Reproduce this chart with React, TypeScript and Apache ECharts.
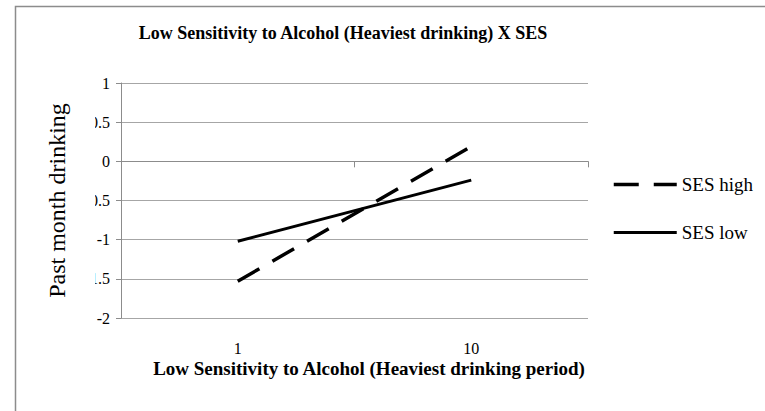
import React, { useEffect, useRef } from "react";
import * as echarts from "echarts";

const categories = ["1", "10"];
const sesHigh = [-1.53, 0.19];
const sesLow = [-1.02, -0.24];
const seriesNames = ["SES high", "SES low"];
const titleText = "Low Sensitivity to Alcohol (Heaviest drinking) X SES";
const xAxisTitle = "Low Sensitivity to Alcohol (Heaviest drinking period)";
const yAxisTitle = "Past month drinking";
const yMin = -2;
const yMax = 1;
const yStep = 0.5;

const FONT = "Liberation Serif";

export default function App() {
  const ref = useRef<HTMLDivElement>(null);
  useEffect(() => {
    if (!ref.current) return;
    const chart = echarts.init(ref.current, null, { renderer: "svg" });
    chart.setOption({
      animation: false,
      backgroundColor: "#ffffff",
      textStyle: { fontFamily: FONT, color: "#000" },
      title: {
        text: titleText,
        left: 343,
        textAlign: "center",
        top: 24,
        padding: 0,
        textStyle: { fontFamily: FONT, fontSize: 18, fontWeight: "bold", color: "#000" },
      },
      graphic: [
        {
          type: "rect",
          shape: { x: 15.5, y: 6.5, width: 900, height: 600 },
          style: { fill: "none", stroke: "#8c8c8c", lineWidth: 1.5 },
          silent: true,
          z: -1,
        },
        {
          // white box of the y-axis title that hides part of the tick labels
          type: "rect",
          shape: { x: 74, y: 100, width: 21, height: 200 },
          style: { fill: "#ffffff", stroke: "none" },
          silent: true,
          z: 100,
        },
      ],
      legend: {
        orient: "vertical",
        left: 612,
        top: 175,
        padding: 0,
        itemWidth: 63,
        itemHeight: 14,
        itemGap: 29,
        textStyle: { fontFamily: FONT, fontSize: 19, color: "#000" },
        data: [
          {
            name: seriesNames[0],
            itemStyle: { color: "rgba(0,0,0,0)", borderWidth: 0 },
            lineStyle: { color: "#000", width: 3.5, type: [25, 15] },
          },
          {
            name: seriesNames[1],
            itemStyle: { color: "rgba(0,0,0,0)", borderWidth: 0 },
            lineStyle: { color: "#000", width: 3, type: "solid" },
          },
        ],
      },
      grid: { left: 121, right: 177, top: 83, bottom: 93 },
      xAxis: {
        type: "category",
        data: categories,
        boundaryGap: true,
        name: xAxisTitle,
        nameLocation: "middle",
        nameGap: 41,
        nameMoveOverlap: false,
        nameTextStyle: {
          fontFamily: FONT,
          fontSize: 19,
          fontWeight: "bold",
          color: "#000",
          padding: [0, 0, 0, 29],
        },
        axisLine: { lineStyle: { color: "#8c8c8c", width: 1 } },
        axisTick: { show: true, length: 6, lineStyle: { color: "#8c8c8c" } },
        axisLabel: { fontFamily: FONT, fontSize: 16, color: "#000", margin: 22 },
        splitLine: { show: false },
      },
      yAxis: {
        type: "value",
        min: yMin,
        max: yMax,
        interval: yStep,
        name: yAxisTitle,
        nameLocation: "middle",
        nameGap: 52,
        nameMoveOverlap: false,
        nameTextStyle: {
          fontFamily: FONT,
          fontSize: 24,
          color: "#000",
        },
        axisLine: { show: true, lineStyle: { color: "#8c8c8c", width: 1 } },
        axisTick: { show: true, length: 5, lineStyle: { color: "#8c8c8c" } },
        axisLabel: { fontFamily: FONT, fontSize: 16, color: "#000", margin: 11 },
        splitLine: { show: true, lineStyle: { color: "#a6a6a6", width: 1 } },
      },
      series: [
        {
          name: seriesNames[0],
          type: "line",
          data: sesHigh,
          symbol: "none",
          lineStyle: { color: "#000", width: 3.5, type: [25, 15], cap: "butt" },
          itemStyle: { color: "#000" },
        },
        {
          name: seriesNames[1],
          type: "line",
          data: sesLow,
          symbol: "none",
          lineStyle: { color: "#000", width: 3, type: "solid" },
          itemStyle: { color: "#000" },
        },
      ],
    });
    return () => chart.dispose();
  }, []);
  return (
    <div
      ref={ref}
      style={{ position: "fixed", left: 0, top: 0, width: 765, height: 411 }}
    />
  );
}
